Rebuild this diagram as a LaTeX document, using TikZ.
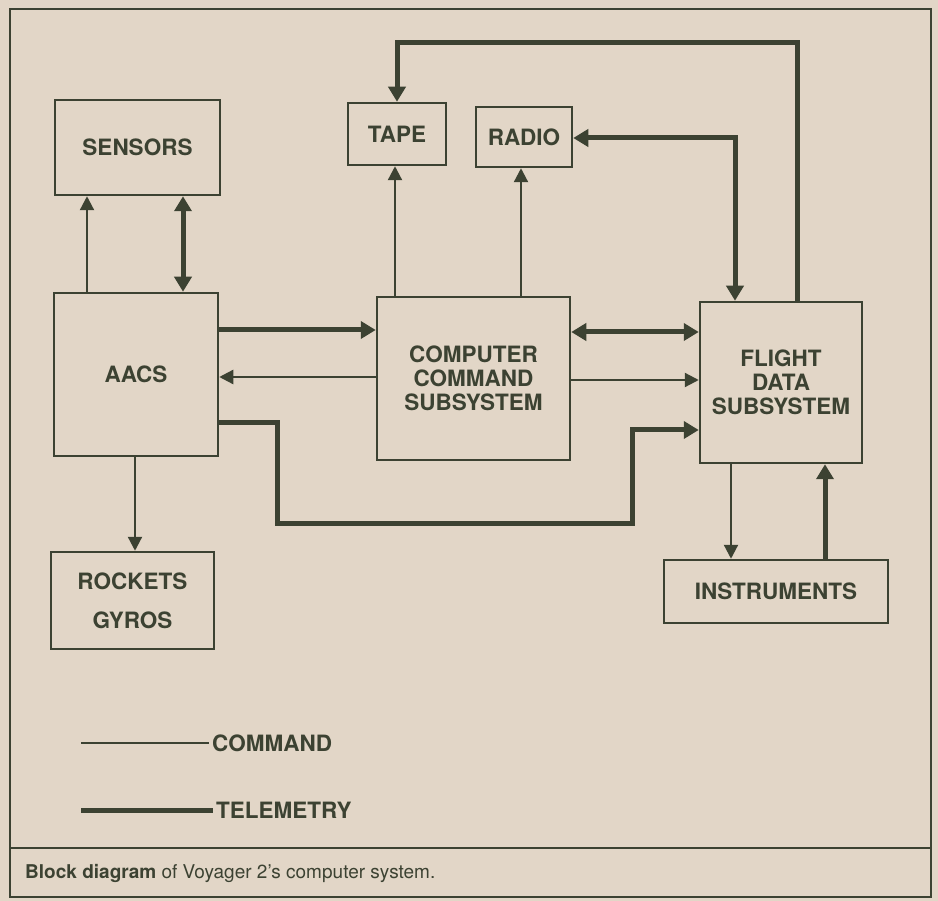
\documentclass[tikz,border=0pt]{standalone}
\usepackage{fontspec}
\setmainfont{TeX Gyre Heros}
\usetikzlibrary{arrows.meta}
\definecolor{voyagerpaper}{RGB}{226,214,199}
\definecolor{voyagerink}{RGB}{60,66,50}
\begin{document}
\begin{tikzpicture}[x=1pt,y=-1pt,
  unit/.style={draw=voyagerink,line width=2.5pt,text=voyagerink,align=center,inner sep=0pt,
    font=\fontsize{22.5}{24}\selectfont\bfseries},
  cmd/.style={draw=voyagerink,line width=2.3pt,-{Triangle[length=14pt,width=14pt]}},
  tel/.style={draw=voyagerink,line width=5pt,line join=miter,-{Triangle[length=15pt,width=17pt]}},
  both/.style={{Triangle[length=15pt,width=17pt]}-{Triangle[length=15pt,width=17pt]}},
  legend/.style={text=voyagerink,anchor=west,inner sep=3pt,font=\fontsize{22.5}{24}\selectfont\bfseries}]
\fill[voyagerpaper] (0,0) rectangle (938,901);
\useasboundingbox (0,0) rectangle (938,901);
\draw[voyagerink,line width=1.6pt] (10,9) rectangle (931,897);
\draw[voyagerink,line width=1.6pt] (10,848) -- (931,848);
\node[unit,minimum width=165,minimum height=95] (sensors) at (137.5,147.5) {SENSORS};
\node[unit,minimum width=98,minimum height=62] (tape) at (397,134) {TAPE};
\node[unit,minimum width=96,minimum height=60] (radio) at (524,137) {RADIO};
\node[unit,minimum width=164,minimum height=163] (aacs) at (136,374.5) {AACS};
\node[unit,minimum width=193,minimum height=163] (ccs) at (473.5,378.5) {COMPUTER\\COMMAND\\SUBSYSTEM};
\node[unit,minimum width=162,minimum height=161] (fds) at (781,382.5) {FLIGHT\\DATA\\SUBSYSTEM};
\node[unit,minimum width=163,minimum height=97] (rockets) at (132.5,600.5) {ROCKETS\\[15pt]GYROS};
\node[unit,minimum width=224,minimum height=63] (instr) at (776,591.5) {INSTRUMENTS};
\draw[cmd] (aacs.north -| 87,0) -- (sensors.south -| 87,0);
\draw[tel,both] (aacs.north -| 183,0) -- (sensors.south -| 183,0);
\draw[tel] (aacs.east |- 0,330) -- (ccs.west |- 0,330);
\draw[cmd] (ccs.west |- 0,377) -- (aacs.east |- 0,377);
\draw[tel] (aacs.east |- 0,423) -| (277,523) -| (632,430) -- (fds.west |- 0,430);
\draw[cmd] (ccs.north -| 395,0) -- (tape.south -| 395,0);
\draw[cmd] (ccs.north -| 521,0) -- (radio.south -| 521,0);
\draw[tel,both] (ccs.east |- 0,332) -- (fds.west |- 0,332);
\draw[cmd] (ccs.east |- 0,380) -- (fds.west |- 0,380);
\draw[tel] (fds.north -| 797,0) |- (397,43) -- (tape.north);
\draw[tel,both] (radio.east |- 0,138) -| (fds.north -| 735,0);
\draw[cmd] (aacs.south -| 135,0) -- (rockets.north -| 135,0);
\draw[cmd] (fds.south -| 731,0) -- (instr.north -| 731,0);
\draw[tel] (instr.north -| 825,0) -- (fds.south -| 825,0);
\coordinate (cmdstart) at (81,743);
\coordinate (telstart) at (81,810);
\node[legend] (cmdlabel) at (209,743) {COMMAND};
\node[legend] (tellabel) at (213,810) {TELEMETRY};
\draw[cmd,-] (cmdstart) -- (cmdlabel.west);
\draw[tel,-] (telstart) -- (tellabel.west);
\node[anchor=west,text=voyagerink,inner sep=0pt,font=\fontsize{19}{21}\selectfont] (caption) at (25,873)
  {\textbf{Block diagram} of Voyager 2’s computer system.};
\end{tikzpicture}
\end{document}
